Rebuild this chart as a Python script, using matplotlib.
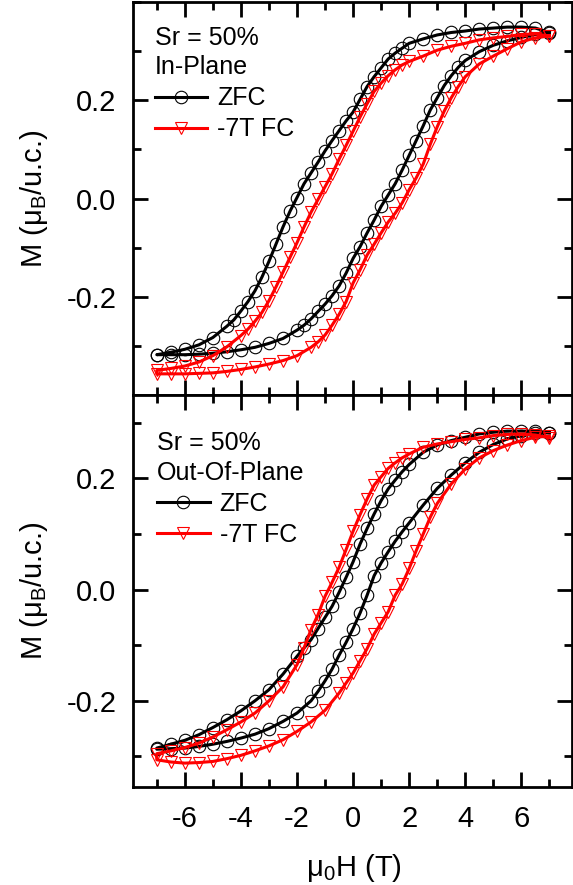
import numpy as np
import matplotlib.pyplot as plt
from matplotlib.ticker import MultipleLocator, FixedLocator, FormatStrFormatter

plt.rcParams['font.family'] = ['Liberation Sans', 'DejaVu Sans']
plt.rcParams['mathtext.fontset'] = 'custom'
plt.rcParams['mathtext.rm'] = 'Liberation Sans'
plt.rcParams['mathtext.it'] = 'Liberation Sans:italic'
plt.rcParams['axes.unicode_minus'] = False

# ---- In-Plane, ZFC ----
ip_zfc_h_down = [7.0, 6.5, 6.0, 5.5, 5.0, 4.5, 4.0, 3.5, 3.0, 2.5, 2.0, 1.75, 1.5, 1.25, 1.0, 0.75,
                 0.5, 0.25, 0.0, -0.25, -0.5, -0.75, -1.0, -1.25, -1.5, -1.75, -2.0, -2.25, -2.5,
                 -2.75, -3.0, -3.25, -3.5, -3.75, -4.0, -4.25, -4.5, -5.0, -5.5, -6.0, -6.5, -7.0]
ip_zfc_m_down = [0.338, 0.347, 0.349, 0.349, 0.347, 0.345, 0.341, 0.338, 0.333, 0.325, 0.316, 0.306,
                 0.296, 0.284, 0.266, 0.248, 0.228, 0.202, 0.176, 0.158, 0.138, 0.118, 0.097, 0.074,
                 0.052, 0.030, 0.002, -0.026, -0.058, -0.093, -0.128, -0.160, -0.188, -0.210, -0.229,
                 -0.247, -0.260, -0.283, -0.298, -0.307, -0.313, -0.318]
ip_zfc_h_up = [-7.0, -6.5, -6.0, -5.5, -5.0, -4.5, -4.0, -3.5, -3.0, -2.5, -2.0, -1.75, -1.5, -1.25,
               -1.0, -0.75, -0.5, -0.25, 0.0, 0.25, 0.5, 0.75, 1.0, 1.25, 1.5, 1.75, 2.0, 2.25, 2.5,
               2.75, 3.0, 3.25, 3.5, 3.75, 4.0, 4.5, 5.0, 5.5, 6.0, 6.5, 7.0]
ip_zfc_m_up = [-0.318, -0.318, -0.318, -0.317, -0.315, -0.312, -0.308, -0.303, -0.295, -0.285, -0.268,
               -0.258, -0.245, -0.230, -0.215, -0.198, -0.178, -0.152, -0.122, -0.098, -0.070, -0.044,
               -0.016, 0.007, 0.030, 0.058, 0.088, 0.118, 0.148, 0.180, 0.205, 0.230, 0.250, 0.267,
               0.281, 0.299, 0.312, 0.321, 0.328, 0.334, 0.337]

# ---- In-Plane, -7T FC ----
ip_fc_h_down = [7.0, 6.5, 6.0, 5.5, 5.0, 4.5, 4.0, 3.5, 3.0, 2.5, 2.0, 1.75, 1.5, 1.25, 1.0, 0.75,
                0.5, 0.25, 0.0, -0.25, -0.5, -0.75, -1.0, -1.25, -1.5, -1.75, -2.0, -2.25, -2.5,
                -2.75, -3.0, -3.25, -3.5, -3.75, -4.0, -4.5, -5.0, -5.5, -6.0, -6.5, -7.0]
ip_fc_m_down = [0.331, 0.335, 0.334, 0.330, 0.327, 0.323, 0.316, 0.310, 0.302, 0.290, 0.279, 0.272,
                0.262, 0.250, 0.235, 0.218, 0.193, 0.166, 0.137, 0.108, 0.080, 0.050, 0.024, -0.002,
                -0.028, -0.058, -0.090, -0.120, -0.150, -0.180, -0.208, -0.232, -0.250, -0.266,
                -0.279, -0.302, -0.320, -0.333, -0.341, -0.346, -0.350]
ip_fc_h_up = [-7.0, -6.5, -6.0, -5.5, -5.0, -4.5, -4.0, -3.5, -3.0, -2.5, -2.0, -1.5, -1.25, -1.0,
              -0.75, -0.5, -0.25, 0.0, 0.25, 0.5, 0.75, 1.0, 1.25, 1.5, 1.75, 2.0, 2.25, 2.5, 2.75,
              3.0, 3.25, 3.5, 3.75, 4.0, 4.5, 5.0, 5.5, 6.0, 6.5, 7.0]
ip_fc_m_up = [-0.357, -0.357, -0.357, -0.356, -0.355, -0.352, -0.348, -0.343, -0.337, -0.330, -0.320,
              -0.303, -0.292, -0.278, -0.258, -0.236, -0.210, -0.172, -0.145, -0.115, -0.093, -0.070,
              -0.048, -0.030, -0.009, 0.018, 0.042, 0.070, 0.110, 0.146, 0.178, 0.205, 0.228, 0.248,
              0.274, 0.290, 0.305, 0.319, 0.327, 0.331]

# ---- Out-Of-Plane, ZFC ----
op_zfc_h_down = [7.0, 6.5, 6.0, 5.5, 5.0, 4.5, 4.0, 3.5, 3.0, 2.5, 2.0, 1.75, 1.5, 1.25, 1.0, 0.75,
                 0.5, 0.25, 0.0, -0.25, -0.5, -0.75, -1.0, -1.25, -1.5, -1.75, -2.0, -2.5, -3.0,
                 -3.5, -4.0, -4.5, -5.0, -5.5, -6.0, -6.5, -7.0]
op_zfc_m_down = [0.282, 0.285, 0.285, 0.285, 0.283, 0.280, 0.274, 0.268, 0.260, 0.247, 0.225, 0.212,
                 0.197, 0.181, 0.160, 0.136, 0.110, 0.082, 0.050, 0.022, -0.005, -0.030, -0.050,
                 -0.070, -0.090, -0.105, -0.120, -0.152, -0.180, -0.200, -0.218, -0.234, -0.248,
                 -0.261, -0.271, -0.278, -0.285]
op_zfc_h_up = [-7.0, -6.5, -6.0, -5.5, -5.0, -4.5, -4.0, -3.5, -3.0, -2.5, -2.0, -1.5, -1.25, -1.0,
               -0.75, -0.5, -0.25, 0.0, 0.25, 0.5, 0.75, 1.0, 1.25, 1.5, 1.75, 2.0, 2.5, 3.0, 3.5,
               4.0, 4.5, 5.0, 5.5, 6.0, 6.5, 7.0]
op_zfc_m_up = [-0.287, -0.286, -0.285, -0.282, -0.278, -0.273, -0.267, -0.260, -0.250, -0.237, -0.222,
               -0.200, -0.183, -0.164, -0.143, -0.118, -0.095, -0.070, -0.042, -0.010, 0.025, 0.048,
               0.068, 0.087, 0.104, 0.120, 0.152, 0.182, 0.206, 0.228, 0.247, 0.261, 0.271, 0.277,
               0.281, 0.282]

# ---- Out-Of-Plane, -7T FC ----
op_fc_h_down = [7.0, 6.5, 6.0, 5.5, 5.0, 4.5, 4.0, 3.5, 3.0, 2.5, 2.0, 1.75, 1.5, 1.25, 1.0, 0.75,
                0.5, 0.25, 0.0, -0.25, -0.5, -0.75, -1.0, -1.25, -1.5, -1.75, -2.0, -2.5, -3.0,
                -3.5, -4.0, -4.5, -5.0, -5.5, -6.0, -6.5, -7.0]
op_fc_m_down = [0.273, 0.278, 0.280, 0.279, 0.277, 0.273, 0.270, 0.266, 0.262, 0.256, 0.244, 0.237,
                0.228, 0.218, 0.203, 0.188, 0.163, 0.135, 0.105, 0.072, 0.040, 0.013, -0.012, -0.045,
                -0.072, -0.105, -0.135, -0.175, -0.200, -0.222, -0.238, -0.252, -0.265, -0.276,
                -0.284, -0.290, -0.295]
op_fc_h_up = [-7.0, -6.5, -6.0, -5.5, -5.0, -4.5, -4.0, -3.5, -3.0, -2.5, -2.0, -1.5, -1.0, -0.5,
              -0.25, 0.0, 0.25, 0.5, 0.75, 1.0, 1.25, 1.5, 1.75, 2.0, 2.25, 2.5, 2.75, 3.0, 3.5,
              4.0, 4.5, 5.0, 5.5, 6.0, 6.5, 7.0]
op_fc_m_up = [-0.306, -0.310, -0.312, -0.311, -0.309, -0.304, -0.298, -0.290, -0.281, -0.270, -0.255,
              -0.238, -0.217, -0.186, -0.168, -0.150, -0.128, -0.106, -0.080, -0.060, -0.040, -0.010,
              0.010, 0.038, 0.070, 0.100, 0.130, 0.155, 0.190, 0.217, 0.237, 0.250, 0.260, 0.268,
              0.274, 0.276]

y_major = [-0.2, 0.0, 0.2]

panels = [
    ("Sr = 50%\nIn-Plane", (-0.4, 0.4),
     (ip_zfc_h_down, ip_zfc_m_down, ip_zfc_h_up, ip_zfc_m_up),
     (ip_fc_h_down, ip_fc_m_down, ip_fc_h_up, ip_fc_m_up), (0.05, 0.94)),
    ("Sr = 50%\nOut-Of-Plane", (-0.355, 0.35),
     (op_zfc_h_down, op_zfc_m_down, op_zfc_h_up, op_zfc_m_up),
     (op_fc_h_down, op_fc_m_down, op_fc_h_up, op_fc_m_up), (0.055, 0.907)),
]

fig = plt.figure(figsize=(5.73, 8.85), dpi=100)
ax1 = fig.add_axes([0.232, 0.5537, 0.766, 0.444])
ax2 = fig.add_axes([0.232, 0.1107, 0.766, 0.443], sharex=ax1)

for ax, (title, ylim, zfc, fc, legpos) in zip([ax1, ax2], panels):
    zh = zfc[0] + zfc[2]
    zm = zfc[1] + zfc[3]
    fh = fc[0] + fc[2]
    fm = fc[1] + fc[3]
    ax.plot(zh, zm, color='black', lw=2.2, marker='o', ms=9, mfc='none', mec='black',
            mew=0.8, label='ZFC')
    ax.plot(fh, fm, color='#ff0000', lw=2.2, marker='v', ms=9, mfc='none', mec='#ff0000',
            mew=0.8, label='-7T FC')

    ax.set_xlim(-7.85, 7.8)
    ax.set_ylim(*ylim)
    ax.xaxis.set_major_locator(MultipleLocator(2))
    ax.xaxis.set_minor_locator(MultipleLocator(1))
    ax.yaxis.set_major_locator(FixedLocator(y_major))
    ax.yaxis.set_minor_locator(MultipleLocator(0.1))
    ax.yaxis.set_major_formatter(FormatStrFormatter('%.1f'))
    ax.tick_params(which='both', direction='in', top=True, right=True, width=2)
    ax.tick_params(which='major', length=11, labelsize=21)
    ax.tick_params(which='minor', length=5.5)
    ax.tick_params(axis='y', pad=12)
    ax.tick_params(axis='x', pad=13)
    for s in ax.spines.values():
        s.set_linewidth(2)

    ax.set_ylabel('M (μ$_\\mathrm{B}$/u.c.)', fontsize=21)
    ax.yaxis.set_label_coords(-0.19, 0.5)

    leg = ax.legend(title=title, loc='upper left', bbox_to_anchor=legpos, frameon=False,
                    fontsize=18, title_fontsize=18, alignment='left', borderaxespad=0,
                    borderpad=0, handlelength=2.1, handletextpad=0.4, labelspacing=0.28)
    leg.get_title().set_linespacing(1.3)

ax1.tick_params(axis='x', labelbottom=False)
ax2.set_xlabel('μ$_0$H (T)', fontsize=21)
ax2.xaxis.set_label_coords(0.503, -0.165)

fig.savefig('out.png', dpi=100)
